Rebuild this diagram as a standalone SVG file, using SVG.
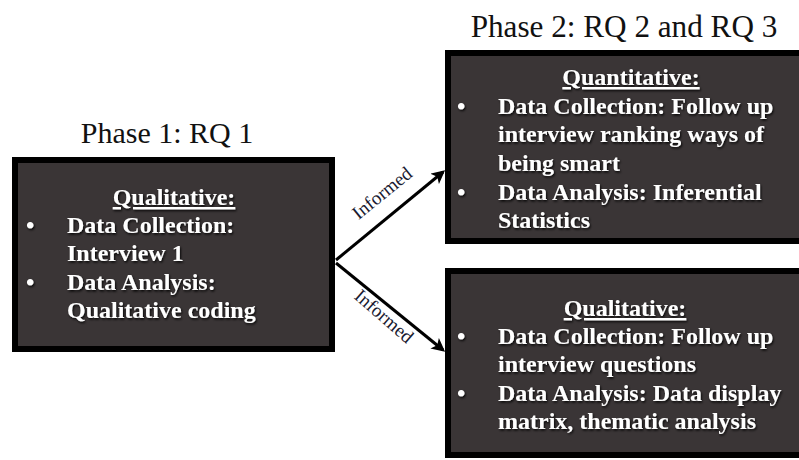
<svg xmlns="http://www.w3.org/2000/svg" width="799" height="460" viewBox="0 0 799 460">
<style>
.box{fill:#3a3536;stroke:#000;stroke-width:6}
.title{font-family:"Liberation Serif",serif;fill:#111;text-anchor:middle}
.t{font-family:"Liberation Serif",serif;font-weight:bold;font-size:24px;fill:#fff;filter:url(#sh)}
.h{text-anchor:middle;text-decoration:underline}
.lbl{font-family:"Liberation Serif",serif;font-size:19px;fill:#1a1a30;text-anchor:middle}
.conn{stroke:#000;stroke-width:3;fill:none;marker-end:url(#ah)}
</style>
<defs>
<filter id="sh" x="-10%" y="-30%" width="120%" height="160%">
<feDropShadow dx="1" dy="1.5" stdDeviation="1" flood-color="#000" flood-opacity="0.9"/>
</filter>
<marker id="ah" viewBox="0 0 10 10" refX="8" refY="5" markerWidth="4.5" markerHeight="4.5" orient="auto" markerUnits="strokeWidth">
<path d="M0,0 L10,5 L0,10 L2.5,5 Z" fill="#000"/>
</marker>
</defs>
<rect width="799" height="460" fill="#fff"/>
<text class="title" x="167" y="143" font-size="30">Phase 1: RQ 1</text>
<text class="title" x="624" y="37" font-size="31.2">Phase 2: RQ 2 and RQ 3</text>
<g id="connectors">
<line class="conn" x1="336" y1="260" x2="443" y2="172"/>
<line class="conn" x1="336" y1="263" x2="443" y2="350"/>
<text class="lbl" transform="translate(386,198) rotate(-39)">Informed</text>
<text class="lbl" transform="translate(380,321) rotate(41)">Informed</text>
</g>
<g id="phase1">
<rect class="box" x="15" y="160" width="317" height="189"/>
<text class="t h" x="174" y="205">Qualitative:</text>
<text class="t" x="26" y="233">•</text>
<text class="t" x="67" y="233">Data Collection:</text>
<text class="t" x="67" y="261">Interview 1</text>
<text class="t" x="26" y="290">•</text>
<text class="t" x="67" y="290">Data Analysis:</text>
<text class="t" x="67" y="318">Qualitative coding</text>
</g>
<g id="phase2-quant">
<rect class="box" x="448" y="53" width="370" height="188"/>
<text class="t h" x="631" y="85">Quantitative:</text>
<text class="t" x="457" y="114">•</text>
<text class="t" x="498" y="114">Data Collection: Follow up</text>
<text class="t" x="498" y="142">interview ranking ways of</text>
<text class="t" x="498" y="171">being smart</text>
<text class="t" x="457" y="200">•</text>
<text class="t" x="498" y="200">Data Analysis: Inferential</text>
<text class="t" x="498" y="228">Statistics</text>
</g>
<g id="phase2-qual">
<rect class="box" x="448" y="271" width="370" height="184"/>
<text class="t h" x="625" y="316">Qualitative:</text>
<text class="t" x="457" y="344">•</text>
<text class="t" x="498" y="344">Data Collection: Follow up</text>
<text class="t" x="498" y="372">interview questions</text>
<text class="t" x="457" y="401">•</text>
<text class="t" x="498" y="401">Data Analysis: Data display</text>
<text class="t" x="498" y="429">matrix, thematic analysis</text>
</g>
</svg>
